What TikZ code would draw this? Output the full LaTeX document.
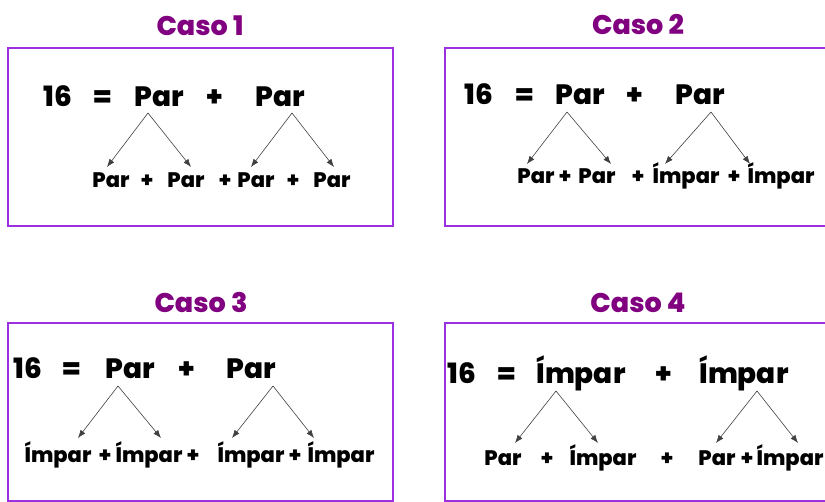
\documentclass[tikz,border=0pt]{standalone}
\usepackage{fontspec}
\setmainfont{Poppins}[BoldFont={Poppins ExtraBold}]
\usepackage{xcolor}
\usetikzlibrary{arrows.meta}
\definecolor{tituloc}{HTML}{800080}
\definecolor{cajac}{HTML}{9B30E0}

\begin{document}
\begin{tikzpicture}[x=1pt, y=-1pt,
  titulo/.style={font=\fontsize{27}{31}\selectfont\bfseries, text=tituloc, anchor=base, inner sep=0pt},
  caja/.style={draw=cajac, line width=2pt},
  grande/.style={font=\fontsize{28}{33}\selectfont\bfseries, anchor=base, inner sep=0pt},
  chico/.style={font=\fontsize{21}{25}\selectfont\bfseries, anchor=base, inner sep=0pt},
  flecha/.style={-{Latex[length=8pt,width=6pt]}, line width=0.6pt, draw=black!75}]
\useasboundingbox (0,0) rectangle (825,502);
\clip (0,0) rectangle (825,502);

% cajas
\draw[caja] (8,48) rectangle (393,226);
\draw[caja] (445,48) rectangle (835,226);
\draw[caja] (8,323) rectangle (393,501);
\draw[caja] (445,323) rectangle (835,501);

% titulos
\node[titulo] (t1) at (200,36) {Caso 1};
\node[titulo] (t2) at (638,35) {Caso 2};
\node[titulo] (t3) at (201,313) {Caso 3};
\node[titulo] (t4) at (638,313) {Caso 4};

% caso 1
\foreach \x/\t [count=\i] in {58/16,103/=,159/Par,215/+,280/Par}
  \node[grande] (a1-\i) at (\x,107) {\t};
\foreach \x/\t [count=\i] in {111/Par,147/+,186/Par,225/+,256/Par,293/+,332/Par}
  \node[chico] (b1-\i) at (\x,188) {\t};

% caso 2
\foreach \x/\t [count=\i] in {479/16,525/=,580/Par,635/+,700/Par}
  \node[grande] (a2-\i) at (\x,105) {\t};
\foreach \x/\t [count=\i] in {536/Par,565/+,597/Par,638/+,686/Ímpar,734/+,781/Ímpar}
  \node[chico] (b2-\i) at (\x,184) {\t};

% caso 3
\foreach \x/\t [count=\i] in {28/16,72/=,130/Par,187/+,251/Par}
  \node[grande] (a3-\i) at (\x,379) {\t};
\foreach \x/\t [count=\i] in {58/Ímpar,105/+,149/Ímpar,193/+,251/Ímpar,295/+,341/Ímpar}
  \node[chico] (b3-\i) at (\x,463) {\t};

% caso 4
\foreach \x/\t [count=\i] in {462/16,507/=,581/Ímpar,664/+,744/Ímpar}
  \node[grande] (a4-\i) at (\x,384) {\t};
\foreach \x/\t [count=\i] in {503/Par,547/+,603/Ímpar,667/+,717/Par,747/+,790/Ímpar}
  \node[chico] (b4-\i) at (\x,466) {\t};

% flechas
\foreach \vx/\vy/\lx/\rx/\ty [count=\k] in
  {148/113/107/191/167, 292/113/251/334/167,
   567/112/527/611/164, 711/112/665/750/164,
   118/386/78/161/438, 273/386/232/314/438,
   556/391/515/598/443, 757/391/716/798/443} {
  \coordinate (v\k) at (\vx,\vy);
  \coordinate (l\k) at (\lx,\ty);
  \coordinate (r\k) at (\rx,\ty);
  \draw[flecha] (v\k) -- (l\k);
  \draw[flecha] (v\k) -- (r\k);
}
\end{tikzpicture}
\end{document}
